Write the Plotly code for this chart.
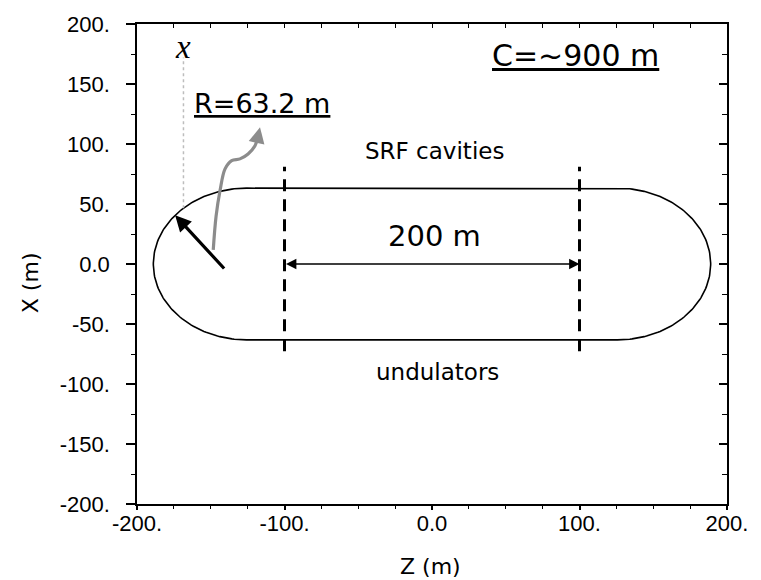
import numpy as np
import plotly.graph_objects as go

# ring geometry (m)
circumference = 900.0
bend_radius = 63.2
straight_ends = [-100.0, 100.0]          # SRF / undulator section edges along Z
section_extent = [-72.7, 81.0]           # vertical extent of the section markers (X)

# radius indicator
radius_tail = [-140.0, -5.0]
radius_angle_deg = 140.0

# guide line for the local x direction
x_guide_z = -168.5
x_guide_top = 172.0
x_label_pos = [-168.5, 181.0]

# grey pointer from the radius arrow to its label
pointer_z = [-148.3, -146.4, -143.7, -140.3, -135.8, -130.2, -124.7, -120.0, -118.2]
pointer_x = [11.8, 39.7, 61.2, 79.3, 86.2, 87.6, 91.7, 98.5, 105.0]
pointer_tip = [-116.6, 114.0]

# axis ticks
z_ticks = [-200, -100, 0, 100, 200]
z_tick_text = ["-200.", "-100.", "0.0", "100.", "200."]
x_ticks = [-200, -150, -100, -50, 0, 50, 100, 150, 200]
x_tick_text = ["-200.", "-150.", "-100.", "-50.", "0.0", "50.", "100.", "150.", "200."]
minor_z = [v for v in range(-175, 200, 25) if v % 100 != 0]
minor_x = [v for v in range(-175, 200, 25) if v % 50 != 0]

# stadium outline: two straights joined by two half circles
half_straight = (circumference - 2 * np.pi * bend_radius) / 4.0
t_right = np.linspace(np.pi / 2, -np.pi / 2, 120)
t_left = np.linspace(-np.pi / 2, -3 * np.pi / 2, 120)
ring_z = np.concatenate([
    [-half_straight], half_straight + bend_radius * np.cos(t_right),
    -half_straight + bend_radius * np.cos(t_left)])
ring_x = np.concatenate([
    [bend_radius], bend_radius * np.sin(t_right),
    bend_radius * np.sin(t_left)])

ang = np.deg2rad(radius_angle_deg)
radius_head = [-half_straight + bend_radius * np.cos(ang), bend_radius * np.sin(ang)]
guide_bottom = np.sqrt(bend_radius ** 2 - (x_guide_z + half_straight) ** 2)

text_font = "DejaVu Sans"
tick_font = dict(family="Liberation Sans, Arial, sans-serif", size=22, color="black")

fig = go.Figure()

fig.add_trace(go.Scatter(x=ring_z, y=ring_x, mode="lines",
                         line=dict(color="black", width=1.6),
                         hoverinfo="skip", showlegend=False))

for zc in straight_ends:
    fig.add_trace(go.Scatter(x=[zc, zc], y=section_extent, mode="lines",
                             line=dict(color="black", width=3, dash="12px,8px"),
                             hoverinfo="skip", showlegend=False))

fig.add_trace(go.Scatter(x=[x_guide_z, x_guide_z], y=[guide_bottom, x_guide_top],
                         mode="lines", line=dict(color="#bdbdbd", width=1.5, dash="dot"),
                         hoverinfo="skip", showlegend=False))

fig.add_trace(go.Scatter(x=pointer_z, y=pointer_x, mode="lines",
                         line=dict(color="#8c8c8c", width=3.2, shape="spline"),
                         hoverinfo="skip", showlegend=False))

# empty trace that carries the mirrored frame axes
fig.add_trace(go.Scatter(x=[None], y=[None], xaxis="x2", yaxis="y2",
                         hoverinfo="skip", showlegend=False))

ann = []
# radius arrow
ann.append(dict(x=radius_head[0], y=radius_head[1], ax=radius_tail[0], ay=radius_tail[1],
                xref="x", yref="y", axref="x", ayref="y", text="", showarrow=True,
                arrowhead=2, arrowsize=1.0, arrowwidth=3.2, arrowcolor="black"))
# pointer head
ann.append(dict(x=pointer_tip[0], y=pointer_tip[1], ax=pointer_z[-1], ay=pointer_x[-1],
                xref="x", yref="y", axref="x", ayref="y", text="", showarrow=True,
                arrowhead=2, arrowsize=1.0, arrowwidth=3.2, arrowcolor="#8c8c8c"))
# 200 m dimension arrow
ann.append(dict(x=straight_ends[1], y=0, ax=straight_ends[0], ay=0,
                xref="x", yref="y", axref="x", ayref="y", text="", showarrow=True,
                arrowhead=2, startarrowhead=2, arrowside="end+start",
                arrowsize=1.3, startarrowsize=1.3, arrowwidth=1.6, arrowcolor="black"))

def label(txt, z, x, size, family=text_font):
    return dict(x=z, y=x, xref="x", yref="y", text=txt, showarrow=False,
                font=dict(family=family, size=size, color="black"),
                xanchor="center", yanchor="middle")

ann.append(label("<u>C=~900 m</u>", 97, 174, 30))
ann.append(label("<u>R=63.2 m</u>", -115, 134, 27))
ann.append(label("SRF cavities", 2, 94, 23))
ann.append(label("200 m", 2, 23, 29))
ann.append(label("undulators", 4, -90, 23))
ann.append(label("<i>x</i>", x_label_pos[0], x_label_pos[1], 33,
                 "Liberation Serif, Times New Roman, serif"))

# axis titles
ann.append(dict(x=0.497, y=0, xref="paper", yref="paper", yshift=-62,
                text="Z (m)", showarrow=False, xanchor="center", yanchor="middle",
                font=dict(family=text_font, size=22, color="black")))
ann.append(dict(x=0, y=0.46, xref="paper", yref="paper", xshift=-107,
                text="X (m)", textangle=-90, showarrow=False,
                xanchor="center", yanchor="middle",
                font=dict(family=text_font, size=22, color="black")))

fig.update_layout(
    width=761, height=580,
    margin=dict(l=137, r=34, t=19, b=76, pad=0),
    paper_bgcolor="white", plot_bgcolor="white",
    showlegend=False, hovermode=False,
    annotations=ann,
    xaxis=dict(range=[-200, 200], tickmode="array", tickvals=z_ticks, ticktext=z_tick_text,
               ticks="outside", ticklen=4, tickwidth=1.5, tickcolor="black",
               minor=dict(tickmode="array", tickvals=minor_z, ticks="outside",
                          ticklen=3, tickwidth=1.3, tickcolor="black"),
               showline=True, linecolor="black", linewidth=1.6, mirror=True,
               showgrid=False, zeroline=False, tickfont=tick_font,
               ticklabelstandoff=-5),
    yaxis=dict(range=[-200, 200], tickmode="array", tickvals=x_ticks, ticktext=x_tick_text,
               ticks="outside", ticklen=9, tickwidth=1.5, tickcolor="black",
               minor=dict(tickmode="array", tickvals=minor_x, ticks="outside",
                          ticklen=4, tickwidth=1.3, tickcolor="black"),
               showline=True, linecolor="black", linewidth=1.6, mirror=True,
               showgrid=False, zeroline=False, tickfont=tick_font,
               ticklabelstandoff=12),
    xaxis2=dict(range=[-200, 200], overlaying="x", side="top", anchor="y",
                tickmode="linear", tick0=-200, dtick=25, ticks="inside", ticklen=4,
                tickwidth=1.3, tickcolor="black", showticklabels=False,
                showline=False, showgrid=False, zeroline=False),
    yaxis2=dict(range=[-200, 200], overlaying="y", side="right", anchor="x",
                tickmode="linear", tick0=-200, dtick=50, ticks="inside", ticklen=8,
                tickwidth=1.5, tickcolor="black", showticklabels=False,
                minor=dict(tickmode="array", tickvals=minor_x, ticks="inside",
                           ticklen=5, tickwidth=1.3, tickcolor="black"),
                showline=False, showgrid=False, zeroline=False),
)

fig.write_html("out.html")
